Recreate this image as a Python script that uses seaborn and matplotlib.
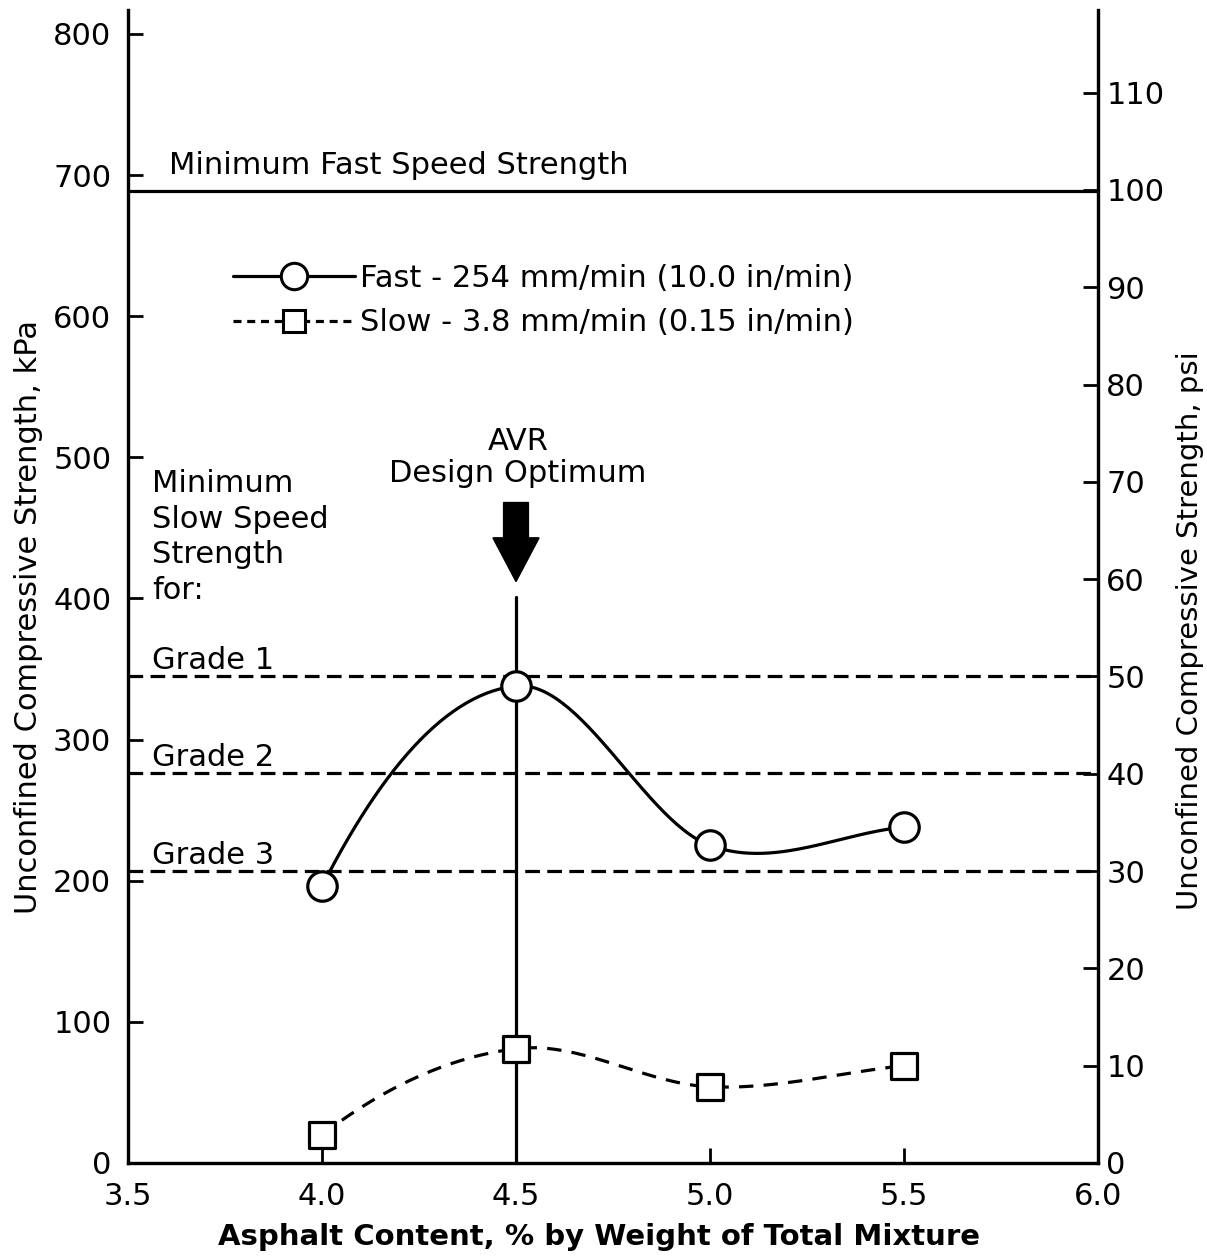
import numpy as np
import pandas as pd
import matplotlib
matplotlib.use("Agg")
import matplotlib.pyplot as plt
from matplotlib.lines import Line2D
from matplotlib.patches import FancyArrow
import seaborn as sns

# ---- data ----
asphalt = [4.0, 4.5, 5.0, 5.5]
fast_kpa = [196, 338, 225, 238]
slow_kpa = [20, 81, 54, 69]
fast_label = "Fast - 254 mm/min (10.0 in/min)"
slow_label = "Slow - 3.8 mm/min (0.15 in/min)"
min_fast_kpa = 689
grade_kpa = [345, 276, 207]
grade_names = ["Grade 1", "Grade 2", "Grade 3"]
x_ticks = [3.5, 4.0, 4.5, 5.0, 5.5, 6.0]
kpa_ticks = list(range(0, 900, 100))
psi_ticks = list(range(0, 120, 10))
avr_x = 4.5
KPA_PER_PSI = 6.895

sns.set_theme(style="ticks")
plt.rcParams["font.family"] = ["DejaVu Sans"]
plt.rcParams.update({"text.color": "black", "axes.labelcolor": "black",
                     "xtick.color": "black", "ytick.color": "black",
                     "axes.edgecolor": "black"})


def smooth_curve(xs, ys, n=60):
    xs = np.asarray(xs, float)
    ys = np.asarray(ys, float)
    m = np.empty_like(ys)
    m[1:-1] = (ys[2:] - ys[:-2]) / (xs[2:] - xs[:-2])
    m[0] = 2 * (ys[1] - ys[0]) / (xs[1] - xs[0]) - m[1]
    m[-1] = (ys[-1] - ys[-2]) / (xs[-1] - xs[-2])
    outx, outy = [], []
    for i in range(len(xs) - 1):
        h = xs[i + 1] - xs[i]
        s = np.linspace(0, 1, n)
        h00 = 2 * s**3 - 3 * s**2 + 1
        h10 = s**3 - 2 * s**2 + s
        h01 = -2 * s**3 + 3 * s**2
        h11 = s**3 - s**2
        outx.append(xs[i] + s * h)
        outy.append(h00 * ys[i] + h10 * h * m[i] + h01 * ys[i + 1] + h11 * h * m[i + 1])
    return np.concatenate(outx), np.concatenate(outy)


fig = plt.figure(figsize=(12.07, 12.59), dpi=100)
ax = fig.add_axes([128 / 1207, 1 - 1163 / 1259, (1098 - 128) / 1207, (1163 - 10) / 1259])

ymax = 817
ax.set_xlim(3.5, 6.0)
ax.set_ylim(0, ymax)

LW = 2.3
# reference lines
ax.axhline(min_fast_kpa, color="black", lw=LW, zorder=2)
for g in grade_kpa:
    ax.axhline(g, color="black", lw=LW, dashes=(4.6, 2.3), zorder=2)
ax.plot([avr_x, avr_x], [0, 401], color="black", lw=LW, zorder=2)

# curves
fx, fy = smooth_curve(asphalt, fast_kpa)
sx, sy = smooth_curve(asphalt, slow_kpa)
ax.plot(fx, fy, color="black", lw=LW, zorder=3)
ax.plot(sx, sy, color="black", lw=LW, dashes=(4.5, 3.2), zorder=3)

df = pd.DataFrame({"x": asphalt * 2,
                   "y": fast_kpa + slow_kpa,
                   "s": ["fast"] * 4 + ["slow"] * 4})
sns.scatterplot(data=df[df.s == "fast"], x="x", y="y", ax=ax, marker="o", s=450,
                facecolor="white", edgecolor="black", linewidth=2.3, zorder=5, legend=False)
sns.scatterplot(data=df[df.s == "slow"], x="x", y="y", ax=ax, marker="s", s=360,
                facecolor="white", edgecolor="black", linewidth=2.3, zorder=5, legend=False)

# arrow
ax.add_patch(FancyArrow(avr_x, 468, 0, -56, width=0.064, head_width=0.119,
                        head_length=31, length_includes_head=True,
                        color="black", zorder=4))

# texts
FS = 22
ax.text(3.605, 707, "Minimum Fast Speed Strength", fontsize=FS, ha="left", va="center")
ax.text(4.505, 500, "AVR\nDesign Optimum", fontsize=FS, ha="center", va="center",
        multialignment="center", linespacing=1.1)
ax.text(3.562, 492, "Minimum\nSlow Speed\nStrength\nfor:", fontsize=FS, ha="left",
        va="top", linespacing=1.3)
for g, name in zip(grade_kpa, grade_names):
    ax.text(3.562, g + 11, name, fontsize=FS, ha="left", va="center")

# legend
handles = [Line2D([], [], color="black", lw=LW, marker="o", markersize=19,
                  markerfacecolor="white", markeredgecolor="black", markeredgewidth=2.2),
           Line2D([], [], color="black", lw=LW, dashes=(2.5, 1.8), marker="s", markersize=16,
                  markerfacecolor="white", markeredgecolor="black", markeredgewidth=2.2)]
leg = ax.legend(handles, [fast_label, slow_label], loc="upper left",
                bbox_to_anchor=(3.77, 637), bbox_transform=ax.transData,
                frameon=False, fontsize=FS, handlelength=4.0, handletextpad=0.15,
                labelspacing=0.5, borderpad=0, borderaxespad=0, numpoints=1)

# axes
ax.set_xticks(x_ticks)
ax.set_xticklabels([f"{t:.1f}" for t in x_ticks])
ax.set_yticks(kpa_ticks)
ax.tick_params(axis="both", direction="in", length=11, width=2, labelsize=22, colors="black")
ax.tick_params(axis="x", pad=14)
ax.tick_params(axis="y", pad=12)
ax.spines["top"].set_visible(False)
for sp in ax.spines.values():
    sp.set_linewidth(2.3)
    sp.set_color("black")
ax.set_xlabel("Asphalt Content, % by Weight of Total Mixture", fontsize=21,
              fontweight="bold")
ax.xaxis.set_label_coords(0.4856, -0.052)
ax.set_ylabel("Unconfined Compressive Strength, kPa", fontsize=22)
ax.yaxis.set_label_coords(-0.088, 0.4735)

ax2 = ax.twinx()
ax2.set_ylim(0, ymax / KPA_PER_PSI)
ax2.set_yticks(psi_ticks)
ax2.tick_params(axis="y", direction="in", length=11, width=2, labelsize=22, pad=6, colors="black")
ax2.spines["top"].set_visible(False)
for sp in ax2.spines.values():
    sp.set_linewidth(2.3)
    sp.set_color("black")
ax2.set_ylabel("Unconfined Compressive Strength, psi", fontsize=21)
ax2.yaxis.set_label_coords(1.08, 0.4614)

fig.savefig("out.png", dpi=100)
